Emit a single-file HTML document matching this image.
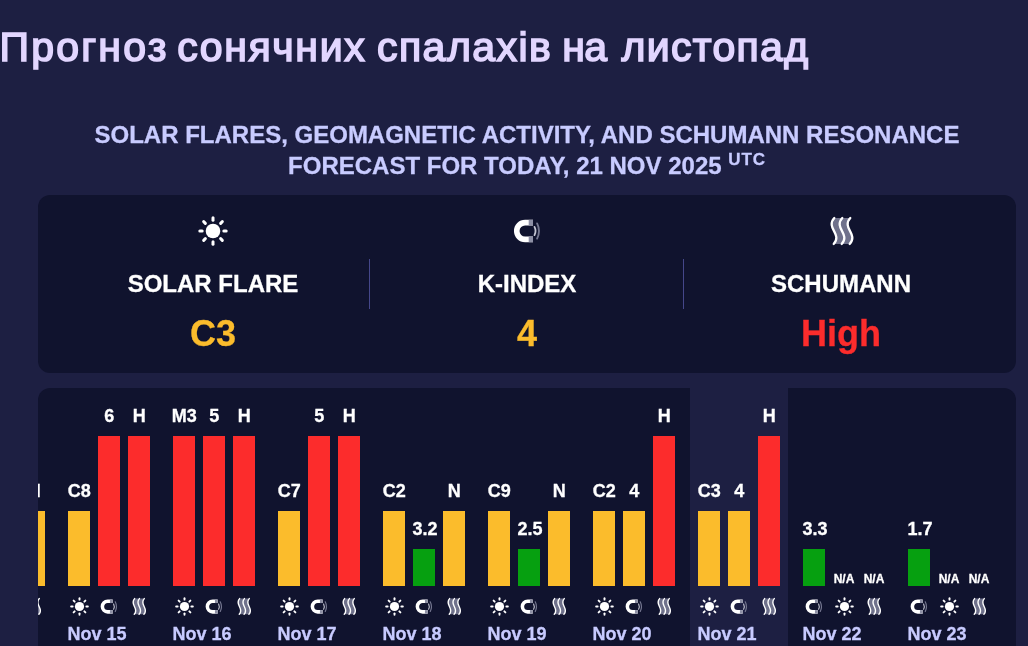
<!DOCTYPE html>
<html lang="uk"><head><meta charset="utf-8"><title>Прогноз сонячних спалахів на листопад</title>
<style>
html,body{margin:0;padding:0}
body{width:1028px;height:646px;overflow:hidden;position:relative;background:#1d1f42;font-family:"Liberation Sans",Arial,sans-serif;font-weight:bold;color:#fff;-webkit-text-stroke:.3px}
h1{position:absolute;left:0;top:24px;margin:0;width:1028px;height:46px;font-size:41px;line-height:46px;font-weight:normal;color:#e2d6ff;-webkit-text-stroke:1.6px #e2d6ff;white-space:nowrap}
h1 span{position:absolute;top:0}
h2{position:absolute;left:38px;width:978px;top:119px;margin:0;font-size:24px;line-height:31px;font-weight:bold;color:#c8cbff;text-align:center}
h2 sup{font-size:17px;line-height:0;vertical-align:baseline;position:relative;top:-9.5px;letter-spacing:.9px}
.stats{position:absolute;left:38px;top:195px;width:978px;height:178px;background:#10132e;border-radius:12px}
.col{position:absolute;top:0;width:314px;height:178px;text-align:center}
.col .lab{position:absolute;left:0;width:100%;top:75px;font-size:24px;line-height:28px}
.col .val{position:absolute;left:0;width:100%;top:118px;font-size:36px;line-height:42px}
.div{position:absolute;top:64px;width:1px;height:50px;background:#45478a}
.chart{position:absolute;left:38px;top:388px;width:978px;height:300px;background:#10132e;border-radius:12px;overflow:hidden}
.hl{position:absolute;left:652px;top:0;width:98px;height:300px;background:#1d1f42}
.bar{position:absolute;width:22px}
.v{position:absolute;width:60px;text-align:center;font-size:18px;line-height:20px;white-space:nowrap}
.na{position:absolute;width:60px;text-align:center;font-size:12px;line-height:14px;white-space:nowrap}
.d{position:absolute;top:235px;font-size:18px;line-height:22px;color:#c8cbff;white-space:nowrap}
.ic{position:absolute;overflow:visible}
</style></head><body>
<h1><span style="left:-.5px;letter-spacing:2.2px">Прогноз</span> <span style="left:177.2px;letter-spacing:1.64px">сонячних</span> <span style="left:377px;letter-spacing:1.46px">спалахів</span> <span style="left:562.3px;letter-spacing:-.7px">на</span> <span style="left:621.5px;letter-spacing:1.32px">листопад</span></h1>
<h2>SOLAR FLARES, GEOMAGNETIC ACTIVITY, AND SCHUMANN RESONANCE<br>FORECAST FOR TODAY, 21 NOV 2025 <sup>UTC</sup></h2>
<div class="stats">
<div class="col" style="left:18px"><svg class="ic" style="left:142.00px;top:21.00px" width="30.00" height="30.00" viewBox="-15 -15 30 30"><circle r="7.3" fill="#fff"/><g stroke="#fff" stroke-width="3" stroke-linecap="round"><line x1="10.80" y1="0.00" x2="13.20" y2="0.00"/><line x1="7.64" y1="7.64" x2="9.33" y2="9.33"/><line x1="0.00" y1="10.80" x2="0.00" y2="13.20"/><line x1="-7.64" y1="7.64" x2="-9.33" y2="9.33"/><line x1="-10.80" y1="0.00" x2="-13.20" y2="0.00"/><line x1="-7.64" y1="-7.64" x2="-9.33" y2="-9.33"/><line x1="-0.00" y1="-10.80" x2="-0.00" y2="-13.20"/><line x1="7.64" y1="-7.64" x2="9.33" y2="-9.33"/></g></svg><div class="lab">SOLAR FLARE</div><div class="val" style="color:#fbbc2c">C3</div></div>
<div class="div" style="left:331px"></div>
<div class="col" style="left:332px"><svg class="ic" style="left:142.70px;top:23.90px" width="28.00" height="24.00" viewBox="0 0 28 24"><path d="M20 3.65H12.1a8.35 8.35 0 0 0 0 16.7H20" fill="none" stroke="#fff" stroke-width="5.6"/><rect x="15.7" y="0.85" width="4.3" height="5.6" fill="#8e90a6"/><rect x="15.7" y="17.55" width="4.3" height="5.6" fill="#8e90a6"/><path d="M21.5 7.9q2.1 4.1 0 8.2" fill="none" stroke="#c3c4d2" stroke-width="1.8" stroke-linecap="round"/><path d="M24.1 4.4q3.8 7.6 0 15.2" fill="none" stroke="#74768f" stroke-width="1.9" stroke-linecap="round"/></svg><div class="lab">K-INDEX</div><div class="val" style="color:#fbbc2c">4</div></div>
<div class="div" style="left:645px"></div>
<div class="col" style="left:646px"><svg class="ic" style="left:145.50px;top:22.00px" width="24.00" height="28.00" viewBox="0 0 24 28"><path d="M4.3 1C-0.4 6 2.2 10.5 4 14C5.8 17.5 8.4 22 3.7 27L19.7 27C24.4 22 21.8 17.5 20 14C18.2 10.5 15.6 6 20.3 1Z" fill="#6f718b"/><path d="M4.3 1C-0.4 6 2.2 10.5 4 14C5.8 17.5 8.4 22 3.7 27M12.3 1C7.6 6 10.2 10.5 12 14C13.8 17.5 16.4 22 11.7 27M20.3 1C15.6 6 18.2 10.5 20 14C21.8 17.5 24.4 22 19.7 27" fill="none" stroke="#fff" stroke-width="2.3" stroke-linecap="round"/></svg><div class="lab">SCHUMANN</div><div class="val" style="color:#fc2c2c">High</div></div>
</div>
<div class="chart"><div class="hl"></div>

<div class="bar" style="left:-75px;top:123px;height:75px;background:#fbbc2c"></div>
<svg class="ic" style="left:-73.15px;top:208.80px" width="19.00" height="19.00" viewBox="-15 -15 30 30"><circle r="7.3" fill="#fff"/><g stroke="#fff" stroke-width="3" stroke-linecap="round"><line x1="10.80" y1="0.00" x2="13.20" y2="0.00"/><line x1="7.64" y1="7.64" x2="9.33" y2="9.33"/><line x1="0.00" y1="10.80" x2="0.00" y2="13.20"/><line x1="-7.64" y1="7.64" x2="-9.33" y2="9.33"/><line x1="-10.80" y1="0.00" x2="-13.20" y2="0.00"/><line x1="-7.64" y1="-7.64" x2="-9.33" y2="-9.33"/><line x1="-0.00" y1="-10.80" x2="-0.00" y2="-13.20"/><line x1="7.64" y1="-7.64" x2="9.33" y2="-9.33"/></g></svg>
<div class="bar" style="left:-45px;top:123px;height:75px;background:#fbbc2c"></div>
<svg class="ic" style="left:-42.71px;top:210.64px" width="17.73" height="15.20" viewBox="0 0 28 24"><path d="M20 3.65H12.1a8.35 8.35 0 0 0 0 16.7H20" fill="none" stroke="#fff" stroke-width="5.6"/><rect x="15.7" y="0.85" width="4.3" height="5.6" fill="#8e90a6"/><rect x="15.7" y="17.55" width="4.3" height="5.6" fill="#8e90a6"/><path d="M21.5 7.9q2.1 4.1 0 8.2" fill="none" stroke="#c3c4d2" stroke-width="1.8" stroke-linecap="round"/><path d="M24.1 4.4q3.8 7.6 0 15.2" fill="none" stroke="#74768f" stroke-width="1.9" stroke-linecap="round"/></svg>
<div class="bar" style="left:-15px;top:123px;height:75px;background:#fbbc2c"></div>
<div class="v" style="left:-33.7px;top:93px">H</div>
<svg class="ic" style="left:-10.61px;top:210.13px" width="14.52" height="16.94" viewBox="0 0 24 28"><path d="M4.3 1C-0.4 6 2.2 10.5 4 14C5.8 17.5 8.4 22 3.7 27L19.7 27C24.4 22 21.8 17.5 20 14C18.2 10.5 15.6 6 20.3 1Z" fill="#6f718b"/><path d="M4.3 1C-0.4 6 2.2 10.5 4 14C5.8 17.5 8.4 22 3.7 27M12.3 1C7.6 6 10.2 10.5 12 14C13.8 17.5 16.4 22 11.7 27M20.3 1C15.6 6 18.2 10.5 20 14C21.8 17.5 24.4 22 19.7 27" fill="none" stroke="#fff" stroke-width="2.3" stroke-linecap="round"/></svg>
<div class="d" style="left:-75.4px">Nov 14</div>
<div class="bar" style="left:30px;top:123px;height:75px;background:#fbbc2c"></div>
<div class="v" style="left:11.3px;top:93px">C8</div>
<svg class="ic" style="left:31.85px;top:208.80px" width="19.00" height="19.00" viewBox="-15 -15 30 30"><circle r="7.3" fill="#fff"/><g stroke="#fff" stroke-width="3" stroke-linecap="round"><line x1="10.80" y1="0.00" x2="13.20" y2="0.00"/><line x1="7.64" y1="7.64" x2="9.33" y2="9.33"/><line x1="0.00" y1="10.80" x2="0.00" y2="13.20"/><line x1="-7.64" y1="7.64" x2="-9.33" y2="9.33"/><line x1="-10.80" y1="0.00" x2="-13.20" y2="0.00"/><line x1="-7.64" y1="-7.64" x2="-9.33" y2="-9.33"/><line x1="-0.00" y1="-10.80" x2="-0.00" y2="-13.20"/><line x1="7.64" y1="-7.64" x2="9.33" y2="-9.33"/></g></svg>
<div class="bar" style="left:60px;top:48px;height:150px;background:#fc2c2c"></div>
<div class="v" style="left:41.3px;top:18px">6</div>
<svg class="ic" style="left:62.29px;top:210.64px" width="17.73" height="15.20" viewBox="0 0 28 24"><path d="M20 3.65H12.1a8.35 8.35 0 0 0 0 16.7H20" fill="none" stroke="#fff" stroke-width="5.6"/><rect x="15.7" y="0.85" width="4.3" height="5.6" fill="#8e90a6"/><rect x="15.7" y="17.55" width="4.3" height="5.6" fill="#8e90a6"/><path d="M21.5 7.9q2.1 4.1 0 8.2" fill="none" stroke="#c3c4d2" stroke-width="1.8" stroke-linecap="round"/><path d="M24.1 4.4q3.8 7.6 0 15.2" fill="none" stroke="#74768f" stroke-width="1.9" stroke-linecap="round"/></svg>
<div class="bar" style="left:90px;top:48px;height:150px;background:#fc2c2c"></div>
<div class="v" style="left:71.3px;top:18px">H</div>
<svg class="ic" style="left:94.39px;top:210.13px" width="14.52" height="16.94" viewBox="0 0 24 28"><path d="M4.3 1C-0.4 6 2.2 10.5 4 14C5.8 17.5 8.4 22 3.7 27L19.7 27C24.4 22 21.8 17.5 20 14C18.2 10.5 15.6 6 20.3 1Z" fill="#6f718b"/><path d="M4.3 1C-0.4 6 2.2 10.5 4 14C5.8 17.5 8.4 22 3.7 27M12.3 1C7.6 6 10.2 10.5 12 14C13.8 17.5 16.4 22 11.7 27M20.3 1C15.6 6 18.2 10.5 20 14C21.8 17.5 24.4 22 19.7 27" fill="none" stroke="#fff" stroke-width="2.3" stroke-linecap="round"/></svg>
<div class="d" style="left:29.6px">Nov 15</div>
<div class="bar" style="left:135px;top:48px;height:150px;background:#fc2c2c"></div>
<div class="v" style="left:116.3px;top:18px">M3</div>
<svg class="ic" style="left:136.85px;top:208.80px" width="19.00" height="19.00" viewBox="-15 -15 30 30"><circle r="7.3" fill="#fff"/><g stroke="#fff" stroke-width="3" stroke-linecap="round"><line x1="10.80" y1="0.00" x2="13.20" y2="0.00"/><line x1="7.64" y1="7.64" x2="9.33" y2="9.33"/><line x1="0.00" y1="10.80" x2="0.00" y2="13.20"/><line x1="-7.64" y1="7.64" x2="-9.33" y2="9.33"/><line x1="-10.80" y1="0.00" x2="-13.20" y2="0.00"/><line x1="-7.64" y1="-7.64" x2="-9.33" y2="-9.33"/><line x1="-0.00" y1="-10.80" x2="-0.00" y2="-13.20"/><line x1="7.64" y1="-7.64" x2="9.33" y2="-9.33"/></g></svg>
<div class="bar" style="left:165px;top:48px;height:150px;background:#fc2c2c"></div>
<div class="v" style="left:146.3px;top:18px">5</div>
<svg class="ic" style="left:167.29px;top:210.64px" width="17.73" height="15.20" viewBox="0 0 28 24"><path d="M20 3.65H12.1a8.35 8.35 0 0 0 0 16.7H20" fill="none" stroke="#fff" stroke-width="5.6"/><rect x="15.7" y="0.85" width="4.3" height="5.6" fill="#8e90a6"/><rect x="15.7" y="17.55" width="4.3" height="5.6" fill="#8e90a6"/><path d="M21.5 7.9q2.1 4.1 0 8.2" fill="none" stroke="#c3c4d2" stroke-width="1.8" stroke-linecap="round"/><path d="M24.1 4.4q3.8 7.6 0 15.2" fill="none" stroke="#74768f" stroke-width="1.9" stroke-linecap="round"/></svg>
<div class="bar" style="left:195px;top:48px;height:150px;background:#fc2c2c"></div>
<div class="v" style="left:176.3px;top:18px">H</div>
<svg class="ic" style="left:199.39px;top:210.13px" width="14.52" height="16.94" viewBox="0 0 24 28"><path d="M4.3 1C-0.4 6 2.2 10.5 4 14C5.8 17.5 8.4 22 3.7 27L19.7 27C24.4 22 21.8 17.5 20 14C18.2 10.5 15.6 6 20.3 1Z" fill="#6f718b"/><path d="M4.3 1C-0.4 6 2.2 10.5 4 14C5.8 17.5 8.4 22 3.7 27M12.3 1C7.6 6 10.2 10.5 12 14C13.8 17.5 16.4 22 11.7 27M20.3 1C15.6 6 18.2 10.5 20 14C21.8 17.5 24.4 22 19.7 27" fill="none" stroke="#fff" stroke-width="2.3" stroke-linecap="round"/></svg>
<div class="d" style="left:134.6px">Nov 16</div>
<div class="bar" style="left:240px;top:123px;height:75px;background:#fbbc2c"></div>
<div class="v" style="left:221.3px;top:93px">C7</div>
<svg class="ic" style="left:241.85px;top:208.80px" width="19.00" height="19.00" viewBox="-15 -15 30 30"><circle r="7.3" fill="#fff"/><g stroke="#fff" stroke-width="3" stroke-linecap="round"><line x1="10.80" y1="0.00" x2="13.20" y2="0.00"/><line x1="7.64" y1="7.64" x2="9.33" y2="9.33"/><line x1="0.00" y1="10.80" x2="0.00" y2="13.20"/><line x1="-7.64" y1="7.64" x2="-9.33" y2="9.33"/><line x1="-10.80" y1="0.00" x2="-13.20" y2="0.00"/><line x1="-7.64" y1="-7.64" x2="-9.33" y2="-9.33"/><line x1="-0.00" y1="-10.80" x2="-0.00" y2="-13.20"/><line x1="7.64" y1="-7.64" x2="9.33" y2="-9.33"/></g></svg>
<div class="bar" style="left:270px;top:48px;height:150px;background:#fc2c2c"></div>
<div class="v" style="left:251.3px;top:18px">5</div>
<svg class="ic" style="left:272.29px;top:210.64px" width="17.73" height="15.20" viewBox="0 0 28 24"><path d="M20 3.65H12.1a8.35 8.35 0 0 0 0 16.7H20" fill="none" stroke="#fff" stroke-width="5.6"/><rect x="15.7" y="0.85" width="4.3" height="5.6" fill="#8e90a6"/><rect x="15.7" y="17.55" width="4.3" height="5.6" fill="#8e90a6"/><path d="M21.5 7.9q2.1 4.1 0 8.2" fill="none" stroke="#c3c4d2" stroke-width="1.8" stroke-linecap="round"/><path d="M24.1 4.4q3.8 7.6 0 15.2" fill="none" stroke="#74768f" stroke-width="1.9" stroke-linecap="round"/></svg>
<div class="bar" style="left:300px;top:48px;height:150px;background:#fc2c2c"></div>
<div class="v" style="left:281.3px;top:18px">H</div>
<svg class="ic" style="left:304.39px;top:210.13px" width="14.52" height="16.94" viewBox="0 0 24 28"><path d="M4.3 1C-0.4 6 2.2 10.5 4 14C5.8 17.5 8.4 22 3.7 27L19.7 27C24.4 22 21.8 17.5 20 14C18.2 10.5 15.6 6 20.3 1Z" fill="#6f718b"/><path d="M4.3 1C-0.4 6 2.2 10.5 4 14C5.8 17.5 8.4 22 3.7 27M12.3 1C7.6 6 10.2 10.5 12 14C13.8 17.5 16.4 22 11.7 27M20.3 1C15.6 6 18.2 10.5 20 14C21.8 17.5 24.4 22 19.7 27" fill="none" stroke="#fff" stroke-width="2.3" stroke-linecap="round"/></svg>
<div class="d" style="left:239.6px">Nov 17</div>
<div class="bar" style="left:345px;top:123px;height:75px;background:#fbbc2c"></div>
<div class="v" style="left:326.3px;top:93px">C2</div>
<svg class="ic" style="left:346.85px;top:208.80px" width="19.00" height="19.00" viewBox="-15 -15 30 30"><circle r="7.3" fill="#fff"/><g stroke="#fff" stroke-width="3" stroke-linecap="round"><line x1="10.80" y1="0.00" x2="13.20" y2="0.00"/><line x1="7.64" y1="7.64" x2="9.33" y2="9.33"/><line x1="0.00" y1="10.80" x2="0.00" y2="13.20"/><line x1="-7.64" y1="7.64" x2="-9.33" y2="9.33"/><line x1="-10.80" y1="0.00" x2="-13.20" y2="0.00"/><line x1="-7.64" y1="-7.64" x2="-9.33" y2="-9.33"/><line x1="-0.00" y1="-10.80" x2="-0.00" y2="-13.20"/><line x1="7.64" y1="-7.64" x2="9.33" y2="-9.33"/></g></svg>
<div class="bar" style="left:375px;top:161px;height:37px;background:#06a010"></div>
<div class="v" style="left:356.9px;top:131px">3.2</div>
<svg class="ic" style="left:377.29px;top:210.64px" width="17.73" height="15.20" viewBox="0 0 28 24"><path d="M20 3.65H12.1a8.35 8.35 0 0 0 0 16.7H20" fill="none" stroke="#fff" stroke-width="5.6"/><rect x="15.7" y="0.85" width="4.3" height="5.6" fill="#8e90a6"/><rect x="15.7" y="17.55" width="4.3" height="5.6" fill="#8e90a6"/><path d="M21.5 7.9q2.1 4.1 0 8.2" fill="none" stroke="#c3c4d2" stroke-width="1.8" stroke-linecap="round"/><path d="M24.1 4.4q3.8 7.6 0 15.2" fill="none" stroke="#74768f" stroke-width="1.9" stroke-linecap="round"/></svg>
<div class="bar" style="left:405px;top:123px;height:75px;background:#fbbc2c"></div>
<div class="v" style="left:386.3px;top:93px">N</div>
<svg class="ic" style="left:409.39px;top:210.13px" width="14.52" height="16.94" viewBox="0 0 24 28"><path d="M4.3 1C-0.4 6 2.2 10.5 4 14C5.8 17.5 8.4 22 3.7 27L19.7 27C24.4 22 21.8 17.5 20 14C18.2 10.5 15.6 6 20.3 1Z" fill="#6f718b"/><path d="M4.3 1C-0.4 6 2.2 10.5 4 14C5.8 17.5 8.4 22 3.7 27M12.3 1C7.6 6 10.2 10.5 12 14C13.8 17.5 16.4 22 11.7 27M20.3 1C15.6 6 18.2 10.5 20 14C21.8 17.5 24.4 22 19.7 27" fill="none" stroke="#fff" stroke-width="2.3" stroke-linecap="round"/></svg>
<div class="d" style="left:344.6px">Nov 18</div>
<div class="bar" style="left:450px;top:123px;height:75px;background:#fbbc2c"></div>
<div class="v" style="left:431.3px;top:93px">C9</div>
<svg class="ic" style="left:451.85px;top:208.80px" width="19.00" height="19.00" viewBox="-15 -15 30 30"><circle r="7.3" fill="#fff"/><g stroke="#fff" stroke-width="3" stroke-linecap="round"><line x1="10.80" y1="0.00" x2="13.20" y2="0.00"/><line x1="7.64" y1="7.64" x2="9.33" y2="9.33"/><line x1="0.00" y1="10.80" x2="0.00" y2="13.20"/><line x1="-7.64" y1="7.64" x2="-9.33" y2="9.33"/><line x1="-10.80" y1="0.00" x2="-13.20" y2="0.00"/><line x1="-7.64" y1="-7.64" x2="-9.33" y2="-9.33"/><line x1="-0.00" y1="-10.80" x2="-0.00" y2="-13.20"/><line x1="7.64" y1="-7.64" x2="9.33" y2="-9.33"/></g></svg>
<div class="bar" style="left:480px;top:161px;height:37px;background:#06a010"></div>
<div class="v" style="left:461.9px;top:131px">2.5</div>
<svg class="ic" style="left:482.29px;top:210.64px" width="17.73" height="15.20" viewBox="0 0 28 24"><path d="M20 3.65H12.1a8.35 8.35 0 0 0 0 16.7H20" fill="none" stroke="#fff" stroke-width="5.6"/><rect x="15.7" y="0.85" width="4.3" height="5.6" fill="#8e90a6"/><rect x="15.7" y="17.55" width="4.3" height="5.6" fill="#8e90a6"/><path d="M21.5 7.9q2.1 4.1 0 8.2" fill="none" stroke="#c3c4d2" stroke-width="1.8" stroke-linecap="round"/><path d="M24.1 4.4q3.8 7.6 0 15.2" fill="none" stroke="#74768f" stroke-width="1.9" stroke-linecap="round"/></svg>
<div class="bar" style="left:510px;top:123px;height:75px;background:#fbbc2c"></div>
<div class="v" style="left:491.3px;top:93px">N</div>
<svg class="ic" style="left:514.39px;top:210.13px" width="14.52" height="16.94" viewBox="0 0 24 28"><path d="M4.3 1C-0.4 6 2.2 10.5 4 14C5.8 17.5 8.4 22 3.7 27L19.7 27C24.4 22 21.8 17.5 20 14C18.2 10.5 15.6 6 20.3 1Z" fill="#6f718b"/><path d="M4.3 1C-0.4 6 2.2 10.5 4 14C5.8 17.5 8.4 22 3.7 27M12.3 1C7.6 6 10.2 10.5 12 14C13.8 17.5 16.4 22 11.7 27M20.3 1C15.6 6 18.2 10.5 20 14C21.8 17.5 24.4 22 19.7 27" fill="none" stroke="#fff" stroke-width="2.3" stroke-linecap="round"/></svg>
<div class="d" style="left:449.6px">Nov 19</div>
<div class="bar" style="left:555px;top:123px;height:75px;background:#fbbc2c"></div>
<div class="v" style="left:536.3px;top:93px">C2</div>
<svg class="ic" style="left:556.85px;top:208.80px" width="19.00" height="19.00" viewBox="-15 -15 30 30"><circle r="7.3" fill="#fff"/><g stroke="#fff" stroke-width="3" stroke-linecap="round"><line x1="10.80" y1="0.00" x2="13.20" y2="0.00"/><line x1="7.64" y1="7.64" x2="9.33" y2="9.33"/><line x1="0.00" y1="10.80" x2="0.00" y2="13.20"/><line x1="-7.64" y1="7.64" x2="-9.33" y2="9.33"/><line x1="-10.80" y1="0.00" x2="-13.20" y2="0.00"/><line x1="-7.64" y1="-7.64" x2="-9.33" y2="-9.33"/><line x1="-0.00" y1="-10.80" x2="-0.00" y2="-13.20"/><line x1="7.64" y1="-7.64" x2="9.33" y2="-9.33"/></g></svg>
<div class="bar" style="left:585px;top:123px;height:75px;background:#fbbc2c"></div>
<div class="v" style="left:566.3px;top:93px">4</div>
<svg class="ic" style="left:587.29px;top:210.64px" width="17.73" height="15.20" viewBox="0 0 28 24"><path d="M20 3.65H12.1a8.35 8.35 0 0 0 0 16.7H20" fill="none" stroke="#fff" stroke-width="5.6"/><rect x="15.7" y="0.85" width="4.3" height="5.6" fill="#8e90a6"/><rect x="15.7" y="17.55" width="4.3" height="5.6" fill="#8e90a6"/><path d="M21.5 7.9q2.1 4.1 0 8.2" fill="none" stroke="#c3c4d2" stroke-width="1.8" stroke-linecap="round"/><path d="M24.1 4.4q3.8 7.6 0 15.2" fill="none" stroke="#74768f" stroke-width="1.9" stroke-linecap="round"/></svg>
<div class="bar" style="left:615px;top:48px;height:150px;background:#fc2c2c"></div>
<div class="v" style="left:596.3px;top:18px">H</div>
<svg class="ic" style="left:619.39px;top:210.13px" width="14.52" height="16.94" viewBox="0 0 24 28"><path d="M4.3 1C-0.4 6 2.2 10.5 4 14C5.8 17.5 8.4 22 3.7 27L19.7 27C24.4 22 21.8 17.5 20 14C18.2 10.5 15.6 6 20.3 1Z" fill="#6f718b"/><path d="M4.3 1C-0.4 6 2.2 10.5 4 14C5.8 17.5 8.4 22 3.7 27M12.3 1C7.6 6 10.2 10.5 12 14C13.8 17.5 16.4 22 11.7 27M20.3 1C15.6 6 18.2 10.5 20 14C21.8 17.5 24.4 22 19.7 27" fill="none" stroke="#fff" stroke-width="2.3" stroke-linecap="round"/></svg>
<div class="d" style="left:554.6px">Nov 20</div>
<div class="bar" style="left:660px;top:123px;height:75px;background:#fbbc2c"></div>
<div class="v" style="left:641.3px;top:93px">C3</div>
<svg class="ic" style="left:661.85px;top:208.80px" width="19.00" height="19.00" viewBox="-15 -15 30 30"><circle r="7.3" fill="#fff"/><g stroke="#fff" stroke-width="3" stroke-linecap="round"><line x1="10.80" y1="0.00" x2="13.20" y2="0.00"/><line x1="7.64" y1="7.64" x2="9.33" y2="9.33"/><line x1="0.00" y1="10.80" x2="0.00" y2="13.20"/><line x1="-7.64" y1="7.64" x2="-9.33" y2="9.33"/><line x1="-10.80" y1="0.00" x2="-13.20" y2="0.00"/><line x1="-7.64" y1="-7.64" x2="-9.33" y2="-9.33"/><line x1="-0.00" y1="-10.80" x2="-0.00" y2="-13.20"/><line x1="7.64" y1="-7.64" x2="9.33" y2="-9.33"/></g></svg>
<div class="bar" style="left:690px;top:123px;height:75px;background:#fbbc2c"></div>
<div class="v" style="left:671.3px;top:93px">4</div>
<svg class="ic" style="left:692.29px;top:210.64px" width="17.73" height="15.20" viewBox="0 0 28 24"><path d="M20 3.65H12.1a8.35 8.35 0 0 0 0 16.7H20" fill="none" stroke="#fff" stroke-width="5.6"/><rect x="15.7" y="0.85" width="4.3" height="5.6" fill="#8e90a6"/><rect x="15.7" y="17.55" width="4.3" height="5.6" fill="#8e90a6"/><path d="M21.5 7.9q2.1 4.1 0 8.2" fill="none" stroke="#c3c4d2" stroke-width="1.8" stroke-linecap="round"/><path d="M24.1 4.4q3.8 7.6 0 15.2" fill="none" stroke="#74768f" stroke-width="1.9" stroke-linecap="round"/></svg>
<div class="bar" style="left:720px;top:48px;height:150px;background:#fc2c2c"></div>
<div class="v" style="left:701.3px;top:18px">H</div>
<svg class="ic" style="left:724.39px;top:210.13px" width="14.52" height="16.94" viewBox="0 0 24 28"><path d="M4.3 1C-0.4 6 2.2 10.5 4 14C5.8 17.5 8.4 22 3.7 27L19.7 27C24.4 22 21.8 17.5 20 14C18.2 10.5 15.6 6 20.3 1Z" fill="#6f718b"/><path d="M4.3 1C-0.4 6 2.2 10.5 4 14C5.8 17.5 8.4 22 3.7 27M12.3 1C7.6 6 10.2 10.5 12 14C13.8 17.5 16.4 22 11.7 27M20.3 1C15.6 6 18.2 10.5 20 14C21.8 17.5 24.4 22 19.7 27" fill="none" stroke="#fff" stroke-width="2.3" stroke-linecap="round"/></svg>
<div class="d" style="left:659.6px">Nov 21</div>
<div class="bar" style="left:765px;top:161px;height:37px;background:#06a010"></div>
<div class="v" style="left:746.9px;top:131px">3.3</div>
<svg class="ic" style="left:767.29px;top:210.64px" width="17.73" height="15.20" viewBox="0 0 28 24"><path d="M20 3.65H12.1a8.35 8.35 0 0 0 0 16.7H20" fill="none" stroke="#fff" stroke-width="5.6"/><rect x="15.7" y="0.85" width="4.3" height="5.6" fill="#8e90a6"/><rect x="15.7" y="17.55" width="4.3" height="5.6" fill="#8e90a6"/><path d="M21.5 7.9q2.1 4.1 0 8.2" fill="none" stroke="#c3c4d2" stroke-width="1.8" stroke-linecap="round"/><path d="M24.1 4.4q3.8 7.6 0 15.2" fill="none" stroke="#74768f" stroke-width="1.9" stroke-linecap="round"/></svg>
<div class="na" style="left:776px;top:184px">N/A</div>
<svg class="ic" style="left:796.85px;top:208.80px" width="19.00" height="19.00" viewBox="-15 -15 30 30"><circle r="7.3" fill="#fff"/><g stroke="#fff" stroke-width="3" stroke-linecap="round"><line x1="10.80" y1="0.00" x2="13.20" y2="0.00"/><line x1="7.64" y1="7.64" x2="9.33" y2="9.33"/><line x1="0.00" y1="10.80" x2="0.00" y2="13.20"/><line x1="-7.64" y1="7.64" x2="-9.33" y2="9.33"/><line x1="-10.80" y1="0.00" x2="-13.20" y2="0.00"/><line x1="-7.64" y1="-7.64" x2="-9.33" y2="-9.33"/><line x1="-0.00" y1="-10.80" x2="-0.00" y2="-13.20"/><line x1="7.64" y1="-7.64" x2="9.33" y2="-9.33"/></g></svg>
<div class="na" style="left:806px;top:184px">N/A</div>
<svg class="ic" style="left:829.39px;top:210.13px" width="14.52" height="16.94" viewBox="0 0 24 28"><path d="M4.3 1C-0.4 6 2.2 10.5 4 14C5.8 17.5 8.4 22 3.7 27L19.7 27C24.4 22 21.8 17.5 20 14C18.2 10.5 15.6 6 20.3 1Z" fill="#6f718b"/><path d="M4.3 1C-0.4 6 2.2 10.5 4 14C5.8 17.5 8.4 22 3.7 27M12.3 1C7.6 6 10.2 10.5 12 14C13.8 17.5 16.4 22 11.7 27M20.3 1C15.6 6 18.2 10.5 20 14C21.8 17.5 24.4 22 19.7 27" fill="none" stroke="#fff" stroke-width="2.3" stroke-linecap="round"/></svg>
<div class="d" style="left:764.6px">Nov 22</div>
<div class="bar" style="left:870px;top:161px;height:37px;background:#06a010"></div>
<div class="v" style="left:851.9px;top:131px">1.7</div>
<svg class="ic" style="left:872.29px;top:210.64px" width="17.73" height="15.20" viewBox="0 0 28 24"><path d="M20 3.65H12.1a8.35 8.35 0 0 0 0 16.7H20" fill="none" stroke="#fff" stroke-width="5.6"/><rect x="15.7" y="0.85" width="4.3" height="5.6" fill="#8e90a6"/><rect x="15.7" y="17.55" width="4.3" height="5.6" fill="#8e90a6"/><path d="M21.5 7.9q2.1 4.1 0 8.2" fill="none" stroke="#c3c4d2" stroke-width="1.8" stroke-linecap="round"/><path d="M24.1 4.4q3.8 7.6 0 15.2" fill="none" stroke="#74768f" stroke-width="1.9" stroke-linecap="round"/></svg>
<div class="na" style="left:881px;top:184px">N/A</div>
<svg class="ic" style="left:901.85px;top:208.80px" width="19.00" height="19.00" viewBox="-15 -15 30 30"><circle r="7.3" fill="#fff"/><g stroke="#fff" stroke-width="3" stroke-linecap="round"><line x1="10.80" y1="0.00" x2="13.20" y2="0.00"/><line x1="7.64" y1="7.64" x2="9.33" y2="9.33"/><line x1="0.00" y1="10.80" x2="0.00" y2="13.20"/><line x1="-7.64" y1="7.64" x2="-9.33" y2="9.33"/><line x1="-10.80" y1="0.00" x2="-13.20" y2="0.00"/><line x1="-7.64" y1="-7.64" x2="-9.33" y2="-9.33"/><line x1="-0.00" y1="-10.80" x2="-0.00" y2="-13.20"/><line x1="7.64" y1="-7.64" x2="9.33" y2="-9.33"/></g></svg>
<div class="na" style="left:911px;top:184px">N/A</div>
<svg class="ic" style="left:934.39px;top:210.13px" width="14.52" height="16.94" viewBox="0 0 24 28"><path d="M4.3 1C-0.4 6 2.2 10.5 4 14C5.8 17.5 8.4 22 3.7 27L19.7 27C24.4 22 21.8 17.5 20 14C18.2 10.5 15.6 6 20.3 1Z" fill="#6f718b"/><path d="M4.3 1C-0.4 6 2.2 10.5 4 14C5.8 17.5 8.4 22 3.7 27M12.3 1C7.6 6 10.2 10.5 12 14C13.8 17.5 16.4 22 11.7 27M20.3 1C15.6 6 18.2 10.5 20 14C21.8 17.5 24.4 22 19.7 27" fill="none" stroke="#fff" stroke-width="2.3" stroke-linecap="round"/></svg>
<div class="d" style="left:869.6px">Nov 23</div>
</div>
</body></html>
